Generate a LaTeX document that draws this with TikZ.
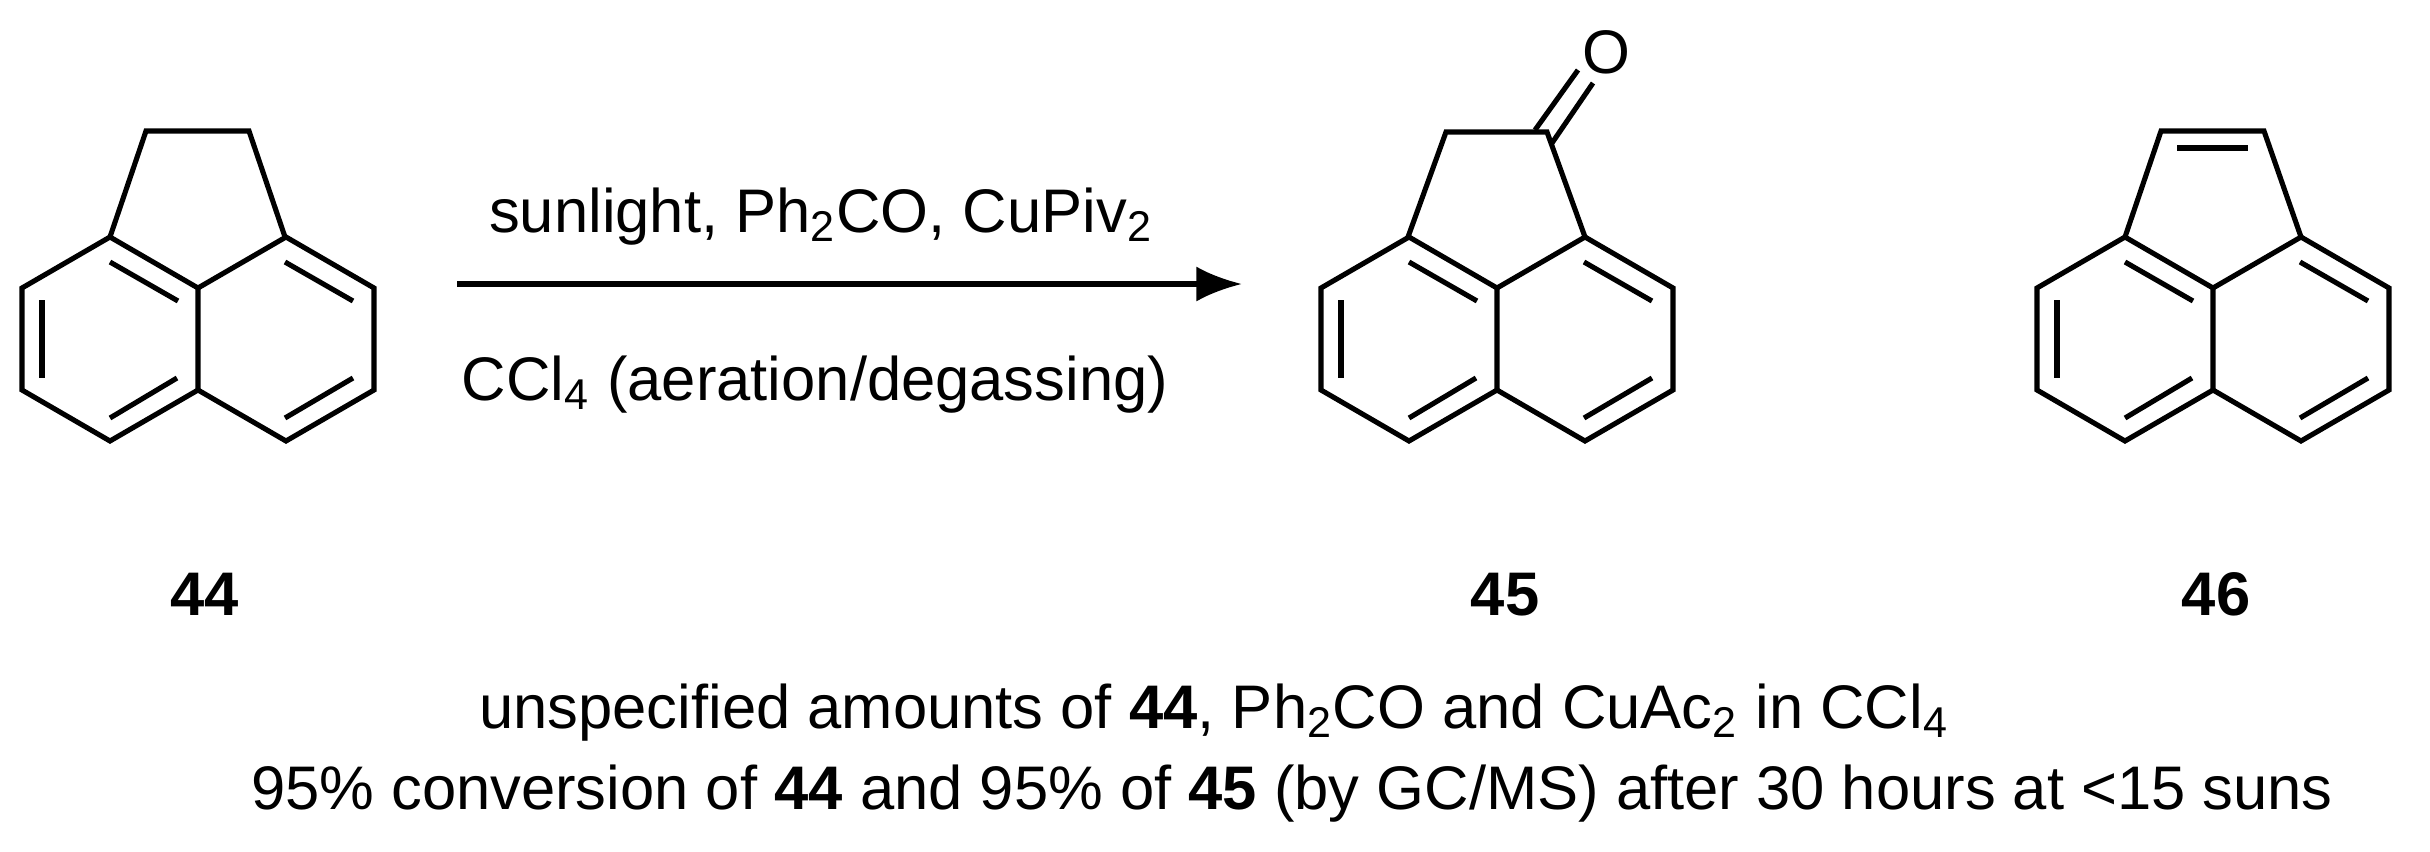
\documentclass[tikz,border=0pt]{standalone}
\usepackage{fontspec}
\setmainfont{Liberation Sans}
\usetikzlibrary{arrows.meta}
\newcommand\sbs[1]{\textsubscript{#1}}
\begin{document}
\begin{tikzpicture}[x=0.01cm,y=-0.01cm,line width=1.45pt,line join=miter,
  txt/.style={font=\fontsize{17.5}{20}\selectfont,inner sep=0pt},
  lbl/.style={font=\fontsize{17.5}{20}\selectfont\bfseries,inner sep=0pt}]
\useasboundingbox (0,0) rectangle (2430,851);
\newcommand\naph[1]{%
\begin{scope}[shift={#1}]
\draw (0,0)--(-88,-51)--(-176,0)--(-176,102)--(-88,153)--(0,102)--cycle;
\draw (0,0)--(88,-51)--(176,0)--(176,102)--(88,153)--(0,102);
\draw (-156,12)--(-156,90);
\draw (-88,-26)--(-20,13);
\draw (-21,90)--(-88,130);
\draw (87,-26)--(155,13);
\draw (155,90)--(87,130);
\end{scope}}
% 44
\naph{(198,288)}
\draw (110,237)--(146,131)--(249,131)--(285,237);
% 45
\naph{(1497,288)}
\draw (1408,237)--(1446,132)--(1547,132)--(1585,237);
\node[txt] (O) at (1606,52) {O};
\draw (1535,130)--(1578,70);
\draw (1552,143)--(1593,83);
% 46
\naph{(2213,288)}
\draw (2125,237)--(2161,131)--(2264,131)--(2301,237);
\draw (2177,148)--(2248,148);
% arrow
\coordinate (a1) at (457,284);
\coordinate (a2) at (1242,284);
\draw[-{Latex[length=13pt,width=10pt]}] (a1)--(a2);
\node[txt,anchor=base] (t1) at (821,232) {sunlight, Ph\sbs{2}CO, CuPiv\sbs{2}};
\node[txt,anchor=base] (t2) at (815,400) {CCl\sbs{4} (aeration/degassing)};
\node[lbl,anchor=base] (l44) at (205,615) {44};
\node[lbl,anchor=base] (l45) at (1505,615) {45};
\node[lbl,anchor=base] (l46) at (2216,615) {46};
\node[txt,anchor=base] (b1) at (1214,728) {unspecified amounts of \textbf{44}, Ph\sbs{2}CO and CuAc\sbs{2} in CCl\sbs{4}};
\node[txt,anchor=base] (b2) at (1292,809) {95\% conversion of \textbf{44} and 95\% of \textbf{45} (by GC/MS) after 30 hours at <15 suns};
\end{tikzpicture}
\end{document}
